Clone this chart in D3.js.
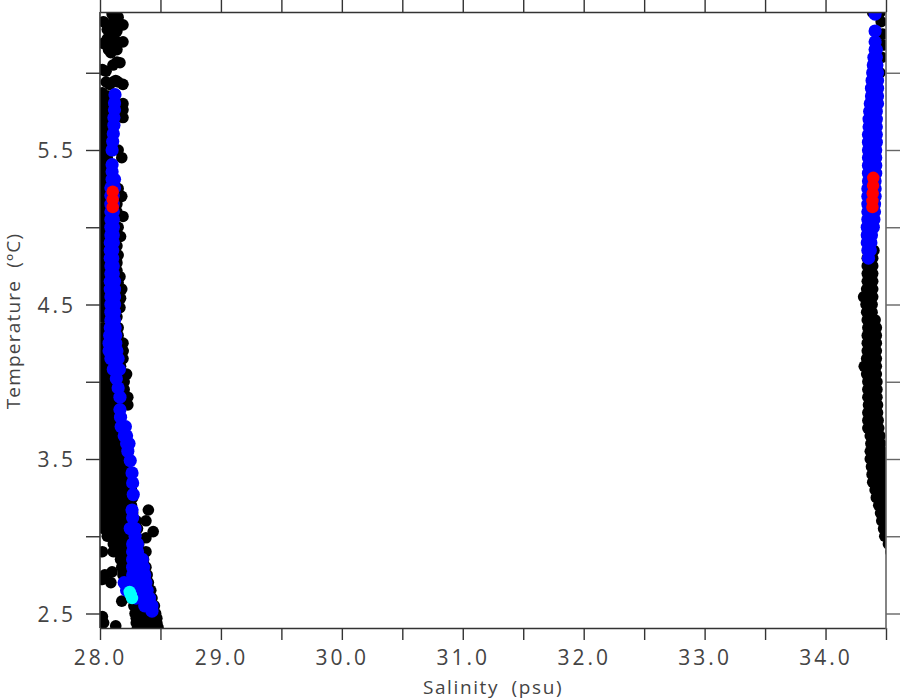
<!DOCTYPE html>
<html><head><meta charset="utf-8">
<script src="https://cdn.jsdelivr.net/npm/d3@7/dist/d3.min.js"></script>
<style>html,body{margin:0;background:#fff}text{font-family:"Open Sans","DejaVu Sans";font-weight:400;fill:#444}</style>
</head><body><svg id="c" width="900" height="700"></svg>
<script>
const xTicks=[28,28.5,29,29.5,30,30.5,31,31.5,32,32.5,33,33.5,34,34.5];
const xLabels=[28,29,30,31,32,33,34];
const yTicks=[2.5,3,3.5,4,4.5,5,5.5,6];
const yLabels=[2.5,3.5,4.5,5.5];
// rows: [temperature, salinity, salinity, ...]
const blackLeft=[
[6.38,28.10,28.13],[6.36,28.15],[6.33,28.03,28.12],[6.31,28.08,28.19],[6.28,28.06,28.11],[6.27,28.14],[6.25,28.10],[6.22,28.06,28.12],[6.2,28.08,28.19],[6.19,28.03],[6.17,28.12],[6.15,28.14,28.07],[6.13,28.09],[6.07,28.14],[6.065,28.165],[6.05,28.107],[6.02,28.02],[6.01,28.05],[5.95,28.13],[5.94,28.05,28.107,28.15],[5.925,28.19,28.08],[5.87,28.02],
[5.85,28.02,28.07],[5.8,28.02,28.07,28.19],[5.76,28.03,28.07,28.19],[5.71,28.02,28.07,28.19],[5.65,28.03,28.07],[5.6,28.02,28.07],[5.55,28.01,28.06],[5.5,28.03,28.07,28.15],[5.45,28.02,28.06,28.18],[5.4,28.02,28.07],[5.35,28.03,28.07],[5.3,28.02,28.07],[5.25,28.03,28.07,28.15],[5.2,28.02,28.07,28.18],[5.15,28.03,28.07,28.14],[5.1,28.02,28.07,28.14],[5.07,28.19,28.03,28.14],[5.03,28.02,28.07],[5,28.02,28.07,28.15],[4.97,28.03,28.07],[4.94,28.03,28.07,28.17],[4.88,28.02,28.07,28.14],[4.82,28.03,28.07,28.15],[4.77,28.02,28.07,28.14],[4.72,28.03,28.07,28.14],[4.68,28.02,28.07,28.165],[4.64,28.03,28.07,28.15],[4.6,28.03,28.07,28.18],[4.54,28.02,28.07,28.17],[4.48,28.03,28.08,28.165],[4.42,28.02,28.07,28.14],[4.35,28.03,28.08,28.15],[4.3,28.02,28.07,28.15],[4.25,28.03,28.08,28.19],[4.2,28.02,28.07,28.19,28.19],[4.15,28.03,28.08,28.19],[4.1,28.02,28.07,28.13,28.17],[4.05,28.03,28.08,28.13,28.22],[4,28.02,28.08,28.14,28.2],[3.95,28.03,28.09,28.15,28.2],[3.9,28.02,28.08,28.14,28.23],[3.85,28.03,28.09,28.15,28.23],[3.8,28.02,28.08,28.14],[3.75,28.03,28.09,28.15],[3.7,28.02,28.08,28.14,28.19],[3.65,28.03,28.09,28.15,28.2],[3.6,28.02,28.08,28.14,28.2],[3.55,28.03,28.09,28.15,28.21],[3.5,28.02,28.08,28.14,28.2],[3.45,28.03,28.09,28.15,28.21],[3.4,28.02,28.08,28.14,28.2,28.25],[3.35,28.03,28.09,28.15,28.21,28.26],[3.3,28.02,28.08,28.14,28.2,28.26],[3.25,28.03,28.09,28.15,28.21,28.27],[3.2,28.02,28.08,28.14,28.2,28.26],[3.15,28.03,28.09,28.15,28.21,28.27],[3.1,28.02,28.08,28.14,28.2,28.26,28.3],[3.05,28.03,28.09,28.15,28.21,28.27,28.31],[3,28.06,28.12,28.18,28.24,28.3],
[2.95,28.11,28.17,28.23,28.29,28.32],[2.9,28.13,28.19,28.25,28.31,28.34],[2.85,28.17,28.23,28.29,28.36],[2.8,28.18,28.24,28.3,28.38],[2.75,28.19,28.25,28.31,28.39],[2.7,28.21,28.27,28.33,28.4],[2.65,28.23,28.29,28.35,28.42],[2.6,28.26,28.32,28.38,28.43],[2.55,28.28,28.34,28.4,28.45],[2.5,28.29,28.35,28.41,28.46],[2.47,28.3,28.36,28.42,28.47],[2.44,28.3,28.36,28.42,28.47],[2.41,28.31,28.37,28.43,28.48],
// strays
[3.17,28.4],[3.1,28.38],[3.03,28.44],[2.99,28.38],[2.9,28.38],[2.9,28.02],[2.9,28.11],[2.77,28.1],[2.75,28.04],[2.72,28.02],[2.7,28.09],[2.58,28.18],[2.48,28.02],[2.44,28.03],[2.42,28.13],
];
const blackRight=[
[6.39,34.39,34.45],[6.33,34.46],[6.25,34.47],[6.18,34.475],[6.1,34.465],[6.0,34.45],
[4.85,34.35,34.40],[4.8,34.345,34.39],[4.75,34.345,34.39],[4.7,34.345,34.39],[4.65,34.345,34.39],[4.6,34.34,34.39],[4.55,34.315,34.36,34.39],[4.5,34.335,34.385],[4.45,34.34,34.385],[4.4,34.345,34.39,34.41],[4.35,34.35,34.395,34.42],[4.3,34.345,34.39,34.42],[4.25,34.345,34.39,34.42],[4.2,34.345,34.39,34.42],[4.15,34.34,34.39,34.42],[4.1,34.32,34.37,34.42],[4.05,34.34,34.39,34.42],[4,34.35,34.39,34.425],[3.95,34.35,34.39,34.425],[3.9,34.35,34.39,34.425],[3.85,34.355,34.395,34.43],[3.8,34.35,34.39,34.43],[3.75,34.35,34.39,34.435],[3.7,34.35,34.4,34.44],[3.65,34.37,34.41,34.45],[3.6,34.375,34.41,34.455],[3.55,34.37,34.42,34.465],[3.5,34.37,34.42,34.475],[3.45,34.38,34.43,34.485],[3.4,34.385,34.44,34.49],[3.35,34.39,34.44,34.49],[3.3,34.41,34.46,34.49],[3.25,34.42,34.46,34.49],[3.2,34.44,34.48,34.5],[3.15,34.455,34.5],[3.1,34.465,34.5],[3.05,34.48,34.51],[3,34.49,34.52],[2.95,34.52],[2.9,34.54]
];
const blueLeft=[
[5.858,28.124],[5.805,28.12],[5.76,28.12],[5.71,28.115],[5.66,28.115],[5.605,28.11],[5.555,28.105],[5.5,28.10],
[5.405,28.1],[5.36,28.1],[5.31,28.1,28.12],[5.255,28.09,28.12],[5.205,28.09,28.11],[5.15,28.09,28.11],[5.1,28.09,28.11],[5.05,28.09,28.11],[5,28.09,28.11],[4.95,28.09,28.11],[4.9,28.085,28.11],[4.85,28.085,28.105],[4.8,28.085,28.105],[4.75,28.09,28.11],[4.7,28.09,28.11],[4.65,28.085,28.12],[4.6,28.085,28.12],[4.55,28.09,28.12],[4.5,28.09,28.12],[4.45,28.09,28.12],[4.4,28.09,28.12],[4.35,28.085,28.125],[4.3,28.08,28.13],[4.25,28.075,28.13],[4.2,28.075,28.14],[4.15,28.09,28.15],[4.08,28.11,28.16],[4.02,28.135],[3.96,28.15],[3.9,28.165],[3.82,28.165],[3.77,28.17],[3.71,28.175,28.21],[3.65,28.2,28.22],[3.6,28.22,28.24],[3.55,28.23],[3.49,28.25],[3.41,28.265],[3.345,28.27],[3.27,28.275],[3.17,28.265],[3.12,28.27],[3.05,28.25,28.29],[3,28.29],[2.95,28.27,28.31],[2.9,28.27,28.31],[2.85,28.27,28.31,28.35],[2.8,28.27,28.32,28.36],[2.75,28.27,28.32,28.37],[2.7,28.2,28.25,28.31,28.38],[2.65,28.22,28.28,28.33,28.39],[2.6,28.3,28.35,28.41],[2.55,28.37,28.41,28.43],[2.515,28.43]
];
const blueRight=[
[6.38,34.41],[6.27,34.41],[6.2,34.41],[6.15,34.41,34.42],[6.1,34.40,34.42],[6.05,34.395,34.425],[6,34.39,34.43],[5.95,34.385,34.43],[5.9,34.38,34.43],[5.85,34.38,34.43],[5.8,34.37,34.43],[5.75,34.365,34.42],[5.7,34.36,34.42],[5.65,34.36,34.39,34.42],[5.6,34.355,34.39,34.42],[5.55,34.355,34.39,34.42],[5.5,34.355,34.39,34.415],[5.45,34.355,34.39,34.415],[5.4,34.355,34.39,34.415],[5.35,34.355,34.39,34.415],[5.3,34.355,34.39,34.41],[5.25,34.35,34.38,34.41],[5.2,34.35,34.38,34.41],[5.15,34.35,34.38,34.405],[5.1,34.35,34.38,34.405],[5.05,34.35,34.375,34.4],[5,34.345,34.375,34.395],[4.95,34.345,34.38],[4.9,34.345,34.375],[4.85,34.35,34.37],[4.8,34.355]
];
const redLeft=[[5.23,28.105],[5.18,28.105],[5.13,28.105]];
const redRight=[[5.32,34.395],[5.27,34.393],[5.22,34.39],[5.17,34.388],[5.13,34.388]];
const cyanPts=[[2.64,28.245],[2.62,28.255],[2.6,28.265]];

const M={l:100,r:886,t:12,b:628};
const x=d3.scaleLinear().domain([28,34.5]).range([M.l,M.r]);
const y=d3.scaleLinear().domain([2.5,5.5]).range([613.5,150]);
const svg=d3.select("#c");
svg.append("clipPath").attr("id","plot").append("rect").attr("x",M.l).attr("y",M.t).attr("width",M.r-M.l).attr("height",M.b-M.t);
const flat=rows=>rows.flatMap(r=>r.slice(1).map(s=>({s,t:r[0]})));
const g=svg.append("g").attr("clip-path","url(#plot)");
function dots(rows,col,rad){
  g.append("g").selectAll("circle").data(flat(rows)).join("circle")
   .attr("cx",d=>x(d.s)).attr("cy",d=>y(d.t)).attr("r",rad).attr("fill",col);
}
dots(blackLeft.concat(blackRight),"#000",5.8);
dots(blueLeft.concat(blueRight),"#0000ff",6.6);
dots(redLeft.concat(redRight),"#ff0000",6.2);
dots(cyanPts,"#00ffff",6.2);

function style(a,col){
  a.selectAll("path").attr("stroke",col).attr("stroke-width",1.6);
  a.selectAll("line").attr("stroke",col).attr("stroke-width",1.4);
}
const xf=d=>xLabels.includes(d)?d.toFixed(1):"";
const yf=d=>yLabels.includes(d)?d.toFixed(1):"";
const bot=svg.append("g").attr("transform",`translate(0,${M.b})`)
  .call(d3.axisBottom(x).tickValues(xTicks).tickSize(12).tickSizeOuter(0).tickFormat(xf));
const lef=svg.append("g").attr("transform",`translate(${M.l},0)`)
  .call(d3.axisLeft(y).tickValues(yTicks).tickSize(14).tickSizeOuter(0).tickFormat(yf));
const top_=svg.append("g").attr("transform",`translate(0,${M.t})`)
  .call(d3.axisTop(x).tickValues(xTicks).tickSize(12).tickSizeOuter(0).tickFormat(""));
const rig=svg.append("g").attr("transform",`translate(${M.r},0)`)
  .call(d3.axisRight(y).tickValues(yTicks).tickSize(14).tickSizeOuter(0).tickFormat(""));
[bot,lef,top_].forEach(a=>style(a,"#333"));style(rig,"#666");
lef.select("path").attr("d",`M0,${M.t}V${M.b}`);
rig.select("path").attr("d",`M0,${M.t}V${M.b+1}`);
bot.selectAll("text").attr("font-size",21).attr("letter-spacing",3).attr("y",22).attr("dy","0.71em").attr("fill","#444");
lef.selectAll("text").attr("font-size",21).attr("letter-spacing",3).attr("x",-24).attr("dy","0.36em").attr("fill","#444");
svg.append("text").attr("x",493).attr("y",694).attr("text-anchor","middle").attr("font-size",19).attr("letter-spacing",1.6).attr("word-spacing",6).text("Salinity (psu)");
svg.append("text").attr("transform","translate(20,321) rotate(-90)").attr("text-anchor","middle").attr("font-size",19).attr("letter-spacing",1.2).attr("word-spacing",6).text("Temperature (ºC)");
</script></body></html>
